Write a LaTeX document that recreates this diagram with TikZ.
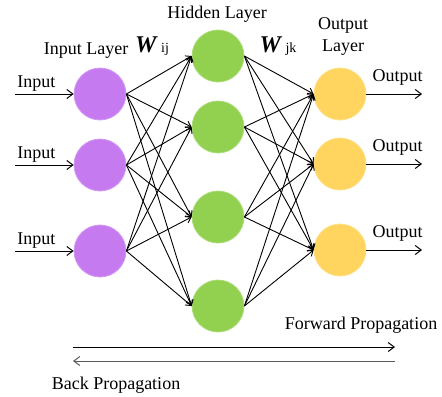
\documentclass[tikz,border=0pt]{standalone}
\usepackage{fontspec}
\setmainfont{Liberation Serif}
\usetikzlibrary{arrows.meta, positioning}
\definecolor{inpnode}{RGB}{198,122,240}
\definecolor{hidnode}{RGB}{146,208,80}
\definecolor{outnode}{RGB}{255,213,95}
\definecolor{backline}{RGB}{90,90,90}
\tikzset{
  neuron/.style={
    circle, minimum size=26pt, inner sep=0pt, line width=0.4pt
  },
  inp/.style={neuron, fill=inpnode, draw=inpnode!75!white},
  hid/.style={neuron, fill=hidnode, draw=hidnode!75!white},
  outp/.style={neuron, fill=outnode, draw=outnode!75!white},
  arr/.style={-{Straight Barb[length=2.5pt,width=3.5pt]}, line width=0.45pt},
  ioarr/.style={-{Straight Barb[length=3pt,width=4.5pt]}, line width=0.5pt},
  lbl/.style={font=\fontsize{9}{11}\selectfont, inner sep=1pt},
  wgt/.style={inner sep=0pt}
}
\newcommand{\wlabel}[1]{{\fontsize{12}{12}\selectfont\textbf{\textit{W}}}\,%
  {\fontsize{7}{7}\selectfont #1}}

\begin{document}
\begin{tikzpicture}[x=0.5pt, y=-0.5pt]
  \useasboundingbox (0,0) rectangle (442,396);

  % neurons
  \node[inp] (in1) at (100,94)  {};
  \node[inp] (in2) at (100,165) {};
  \node[inp] (in3) at (100,251) {};
  \node[hid] (hd1) at (218,56)  {};
  \node[hid] (hd2) at (218,127) {};
  \node[hid] (hd3) at (218,217) {};
  \node[hid] (hd4) at (218,306) {};
  \node[outp] (out1) at (340,94)  {};
  \node[outp] (out2) at (340,164) {};
  \node[outp] (out3) at (340,250) {};

  % layer titles and weights
  \node[lbl] (inlayer) at (86,51) {Input Layer};
  \node[lbl] (hidlayer) at (217,14) {Hidden Layer};
  \node[lbl, align=center] (outlayer) at (343,36) {Output\\Layer};
  \node[wgt] (wij) at (152,46) {\wlabel{ij}};
  \node[wgt] (wjk) at (278,46) {\wlabel{jk}};

  % weights between layers
  \foreach \i in {1,2,3}
    \foreach \j in {1,2,3,4}
      \draw[arr] (in\i.east) -- (hd\j.west);
  \foreach \j in {1,2,3,4}
    \foreach \k in {1,2,3}
      \draw[arr] (hd\j.east) -- (out\k.west);

  % inputs and outputs
  \foreach \n/\y in {1/94, 2/165, 3/251} {
    \coordinate (src\n) at (15,\y);
    \draw[ioarr] (src\n) -- (in\n.west);
    \node[lbl, above right=0pt and 0pt of src\n] (tin\n) {Input};
  }
  \foreach \n/\y in {1/94, 2/164, 3/250} {
    \coordinate (dst\n) at (422,\y);
    \draw[ioarr] (out\n.east) -- (dst\n);
    \node[lbl, above left=3pt and -1.5pt of dst\n] (tout\n) {Output};
  }

  % propagation directions
  \coordinate (fwdL) at (73,347);
  \coordinate (fwdR) at (395,347);
  \coordinate (bckR) at (395,361);
  \coordinate (bckL) at (73,361);
  \draw[ioarr] (fwdL) -- (fwdR);
  \draw[ioarr, draw=backline] (bckR) -- (bckL);
  \node[lbl] (fwdtxt) at (361,325) {Forward Propagation};
  \node[lbl] (bcktxt) at (116,385) {Back Propagation};
\end{tikzpicture}
\end{document}
